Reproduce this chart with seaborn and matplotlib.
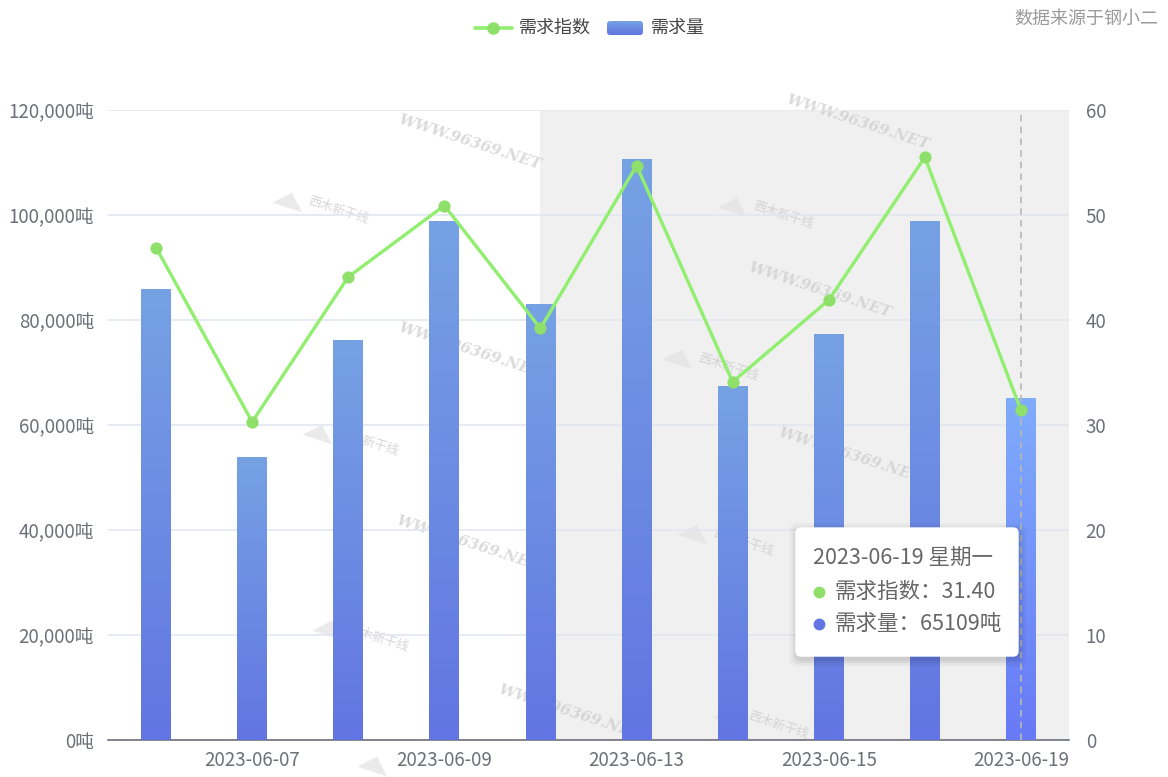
import numpy as np
import pandas as pd
import matplotlib
matplotlib.use("Agg")
import matplotlib.pyplot as plt
import seaborn as sns
from matplotlib.patches import FancyBboxPatch
from matplotlib.lines import Line2D
from matplotlib.colors import LinearSegmentedColormap
from matplotlib.ticker import FuncFormatter, MultipleLocator

# ---- data ----
dates = ["2023-06-06", "2023-06-07", "2023-06-08", "2023-06-09", "2023-06-12",
         "2023-06-13", "2023-06-14", "2023-06-15", "2023-06-16", "2023-06-19"]
demand_tons = [85900, 53900, 76200, 98900, 83000, 110700, 67400, 77300, 98900, 65109]
demand_index = [46.9, 30.3, 44.1, 50.9, 39.2, 54.7, 34.1, 41.9, 55.5, 31.40]
tick_labels = ["", "2023-06-07", "", "2023-06-09", "", "2023-06-13", "", "2023-06-15", "", "2023-06-19"]

df = pd.DataFrame({"date": dates, "tons": demand_tons, "index": demand_index})

sns.set_theme(style="white")
plt.rcParams["font.family"] = ["Noto Sans CJK SC", "DejaVu Sans"]

W, H = 1168, 777
fig = plt.figure(figsize=(W / 100, H / 100), dpi=100)
fig.patch.set_facecolor("white")


def fx(x):
    return x / W


def fy(y):
    return 1 - y / H


ax = fig.add_axes([fx(108), fy(740), fx(1069) - fx(108), fy(110) - fy(740)])
ax.set_facecolor("white")

TICK_C = "#6e7079"
GRID_C = "#e0e6f1"
LINE_C = "#91ee6f"
DOT_C = "#8ee06a"
BAR_TOP = np.array([118, 162, 228]) / 255
BAR_BOT = np.array([98, 117, 226]) / 255
HI_TOP = np.array([128, 172, 252]) / 255
HI_BOT = np.array([104, 122, 246]) / 255

# ---- bars ----
sns.barplot(data=df, x="date", y="tons", ax=ax, color="#6a8ae3", width=0.31,
            saturation=1, zorder=3)
bars = list(ax.patches)
n = len(dates)

# gradient fill inside each bar
for i, p in enumerate(bars):
    x0, y0 = p.get_x(), p.get_y()
    w, h = p.get_width(), p.get_height()
    top, bot = (HI_TOP, HI_BOT) if i == n - 1 else (BAR_TOP, BAR_BOT)
    cmap = LinearSegmentedColormap.from_list("g%d" % i, [bot, top])
    grad = np.linspace(0, 1, 256).reshape(-1, 1)
    im = ax.imshow(grad, extent=[x0, x0 + w, y0, y0 + h], origin="lower",
                   cmap=cmap, aspect="auto", zorder=3, interpolation="bilinear")
    im.set_clip_path(p)
    p.set_facecolor("none")
    p.set_edgecolor("none")
ax.set_xlim(-0.5, n - 0.5)
ax.set_ylim(0, 120000)

# highlighted zone behind the later sessions
ax.axvspan(4, n - 0.5, ymin=0, ymax=0.998, color="#f0f0f0", zorder=0.1, lw=0)

# grid & axes
ax.yaxis.set_major_locator(MultipleLocator(20000))
ax.grid(axis="y", color=GRID_C, lw=1.2, zorder=0.5)
ax.set_axisbelow(True)
for s in ["top", "left", "right"]:
    ax.spines[s].set_visible(False)
ax.spines["bottom"].set_color(TICK_C)
ax.spines["bottom"].set_linewidth(1.2)
ax.yaxis.set_major_formatter(FuncFormatter(lambda v, _: f"{int(v):,}吨"))
ax.set_xticks(range(n))
ax.set_xticklabels(tick_labels)
ax.tick_params(axis="x", length=0, pad=7, labelsize=13.5, colors=TICK_C)
ax.tick_params(axis="y", length=0, pad=10, labelsize=13.5, colors=TICK_C)
ax.set_xlabel("")
ax.set_ylabel("")

# dashed pointer line
ax.axvline(n - 1, color="#b8b8b8", lw=1.2, ls=(0, (4, 3)), zorder=4)

# ---- line on the right axis ----
ax2 = ax.twinx()
sns.pointplot(data=df, x="date", y="index", ax=ax2, color=LINE_C, markers="o",
              markersize=7, linewidth=2.4, zorder=5)
for ln in ax2.lines:
    ln.set_markerfacecolor(DOT_C)
    ln.set_markeredgecolor(DOT_C)
ax2.set_xlim(-0.5, n - 0.5)
ax2.set_ylim(0, 60)
ax2.yaxis.set_major_locator(MultipleLocator(10))
ax2.tick_params(axis="y", length=0, pad=12, labelsize=13.5, colors=TICK_C)
ax2.set_ylabel("")
ax2.set_xlabel("")
for s in ["top", "left", "right", "bottom"]:
    ax2.spines[s].set_visible(False)
ax2.grid(False)

# ---- watermarks ----
wm_text = [(470, 142), (858, 122), (820, 290), (470, 350), (850, 455), (468, 543), (570, 712)]
for x, y in wm_text:
    ax.text(fx(x), fy(y), "WWW.96369.NET", transform=fig.transFigure, rotation=-18,
            fontsize=11, family="DejaVu Serif", style="italic", weight="bold",
            color="#cccccc", alpha=0.7, ha="center", va="center", zorder=0.3, clip_on=False)
wm_logo = [(290, 200), (735, 205), (680, 357), (320, 432), (695, 532), (330, 628), (730, 715), (375, 764)]
for x, y in wm_logo:
    ax.text(fx(x), fy(y), "◢◣", transform=fig.transFigure, rotation=-18,
            fontsize=15, family="DejaVu Sans", color="#e2e2e2", alpha=0.7,
            ha="center", va="center", zorder=0.3, clip_on=False)
    if y < 750:
        ax.text(fx(x + 48), fy(y + 10), "西木新干线", transform=fig.transFigure, rotation=-18,
                fontsize=9, color="#cccccc", alpha=0.8, ha="center", va="center",
                zorder=0.3, clip_on=False)

# ---- overlay: legend, source note, tooltip ----
ov = fig.add_axes([0, 0, 1, 1], zorder=10)
ov.set_xlim(0, W)
ov.set_ylim(H, 0)
ov.axis("off")
ov.patch.set_alpha(0)

ov.add_line(Line2D([475, 512], [28, 28], color=LINE_C, lw=2.6))
ov.add_line(Line2D([493], [28], marker="o", markersize=8, color=DOT_C))
ov.text(519, 28, "需求指数", fontsize=13, color="#464646", va="center", ha="left")
leg_cmap = LinearSegmentedColormap.from_list("leg", [BAR_BOT, BAR_TOP])
leg_box = FancyBboxPatch((607, 21), 36, 14, boxstyle="round,pad=0,rounding_size=3",
                         facecolor="none", edgecolor="none")
ov.add_patch(leg_box)
leg_im = ov.imshow(np.linspace(0, 1, 64).reshape(-1, 1), extent=[607, 643, 35, 21],
                   origin="lower", cmap=leg_cmap, aspect="auto")
leg_im.set_clip_path(leg_box)
ov.text(651, 28, "需求量", fontsize=13, color="#464646", va="center", ha="left")
ov.set_xlim(0, W)
ov.set_ylim(H, 0)

ov.text(1158, 19, "数据来源于钢小二", fontsize=13, color="#9a9a9a", va="center", ha="right")

# tooltip
for k, a in enumerate([0.05, 0.04, 0.03, 0.02]):
    d = 2 + 2 * k
    ov.add_patch(FancyBboxPatch((796 - d + 1, 528 - d + 3), 222 + 2 * d, 128 + 2 * d,
                                boxstyle="round,pad=0,rounding_size=8",
                                facecolor="black", edgecolor="none", alpha=a))
ov.add_patch(FancyBboxPatch((796, 528), 222, 128, boxstyle="round,pad=0,rounding_size=5",
                            facecolor="white", edgecolor="white", lw=1))
ov.text(813, 559, "2023-06-19 星期一", fontsize=15.5, color="#666666", va="center", ha="left")
ov.add_line(Line2D([819], [592], marker="o", markersize=7.5, color=DOT_C, lw=0))
ov.text(835, 592, "需求指数：31.40", fontsize=15.5, color="#666666", va="center", ha="left")
ov.add_line(Line2D([819], [624], marker="o", markersize=7.5, color="#6275e2", lw=0))
ov.text(835, 624, "需求量：65109吨", fontsize=15.5, color="#666666", va="center", ha="left")

fig.savefig("out.png", dpi=100, facecolor="white")
